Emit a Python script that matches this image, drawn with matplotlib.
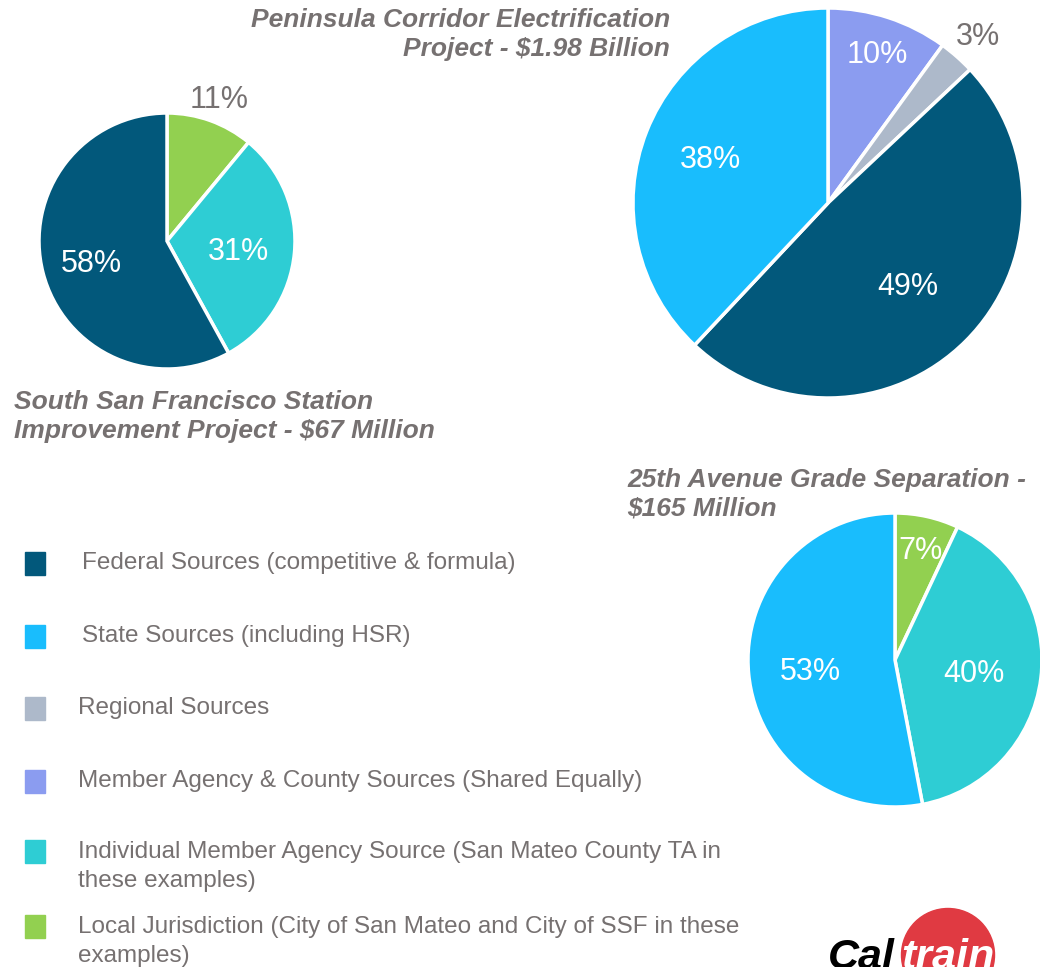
import numpy as np
import matplotlib
matplotlib.use("Agg")
import matplotlib.pyplot as plt
from matplotlib.patches import Circle, Rectangle

# ---- data ----
categories = [
    "Federal Sources (competitive & formula)",
    "State Sources (including HSR)",
    "Regional Sources",
    "Member Agency & County Sources (Shared Equally)",
    "Individual Member Agency Source (San Mateo County TA in\nthese examples)",
    "Local Jurisdiction (City of San Mateo and City of SSF in these\nexamples)",
]
cat_colors = ["#02587b", "#19bdfd", "#adb9ca", "#8b9cf0", "#2ecdd4", "#92d050"]

ssf_title = "South San Francisco Station\nImprovement Project - $67 Million"
ssf_cats = [5, 4, 0]
ssf_values = [11, 31, 58]

pcep_title = "Peninsula Corridor Electrification\nProject - $1.98 Billion"
pcep_cats = [3, 2, 0, 1]
pcep_values = [10, 3, 49, 38]

ave_title = "25th Avenue Grade Separation -\n$165 Million"
ave_cats = [5, 4, 1]
ave_values = [7, 40, 53]

TXT = "#767171"
W, H = 1040, 967

fig = plt.figure(figsize=(W / 100, H / 100), dpi=100)
ax = fig.add_axes([0, 0, 1, 1])


def draw_pie(values, cats, center, radius, label_dist, label_colors):
    wedges, _ = ax.pie(
        values, colors=[cat_colors[c] for c in cats], startangle=90,
        counterclock=False, center=center, radius=radius,
        wedgeprops=dict(edgecolor="white", linewidth=2.5), frame=True,
    )
    for w, v, d, col in zip(wedges, values, label_dist, label_colors):
        ang = np.deg2rad((w.theta1 + w.theta2) / 2)
        x = center[0] + d * radius * np.cos(ang)
        y = center[1] + d * radius * np.sin(ang) - 4
        ax.text(x, y, f"{v}%", ha="center", va="center", color=col,
                fontsize=22, family="Liberation Sans")


# pies (pixel coordinates, y measured from bottom)
draw_pie(ssf_values, ssf_cats, (167, H - 241), 128,
         [1.2, 0.56, 0.61], [TXT, "white", "white"])
draw_pie(pcep_values, pcep_cats, (828, H - 203), 195,
         [0.82, 1.16, 0.58, 0.65], ["white", TXT, "white", "white"])
draw_pie(ave_values, ave_cats, (895, H - 660), 147,
         [0.79, 0.54, 0.58], ["white", "white", "white"])

ax.set_xlim(0, W)
ax.set_ylim(0, H)
ax.set_aspect("auto")
ax.axis("off")

title_kw = dict(color=TXT, fontsize=19, fontweight="bold", style="italic",
                family="Liberation Sans", linespacing=1.22)
ax.text(670, H - 34.5, pcep_title, ha="right", va="center",
        multialignment="right", **title_kw)
ax.text(14, H - 416.5, ssf_title, ha="left", va="center", **title_kw)
ax.text(627, H - 494.5, ave_title, ha="left", va="center", **title_kw)

# legend
leg_y = [563, 636, 708, 781, 866.5, 941.5]
leg_x = [82, 82, 78, 78, 78, 78]
box_y = [563, 636, 708, 781, 851, 926]
for cat, col, y, x, by in zip(categories, cat_colors, leg_y, leg_x, box_y):
    ax.add_patch(Rectangle((25, H - by - 11.5), 20, 23, color=col))
    ax.text(x, H - y, cat, ha="left", va="center", color=TXT, fontsize=17.5,
            family="Liberation Sans", linespacing=1.42)

# Caltrain logo (cropped at bottom edge as in the slide)
ax.add_patch(Circle((948, H - 955), 46.5, color="#e03a42", clip_on=False))
ax.text(828, H - 969, "Cal", ha="left", va="baseline", color="black",
        fontsize=31, fontweight="bold", style="italic", family="Liberation Sans")
ax.text(901, H - 969, "train", ha="left", va="baseline", color="white",
        fontsize=31, fontweight="bold", style="italic", family="Liberation Sans")

fig.savefig("out.png", dpi=100)
